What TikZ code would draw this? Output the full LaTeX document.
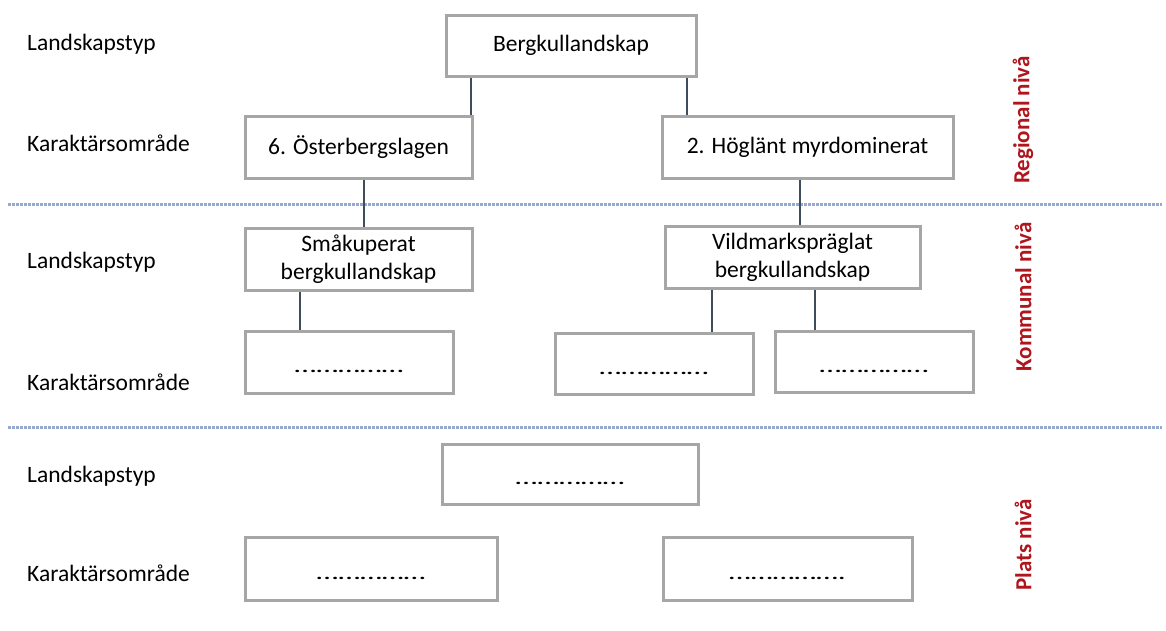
\documentclass[tikz,border=0pt]{standalone}
\usepackage{fontspec}
\usepackage{graphicx}
\setmainfont{Carlito}
\definecolor{boxgray}{RGB}{166,166,166}
\definecolor{conn}{RGB}{62,77,92}
\definecolor{sep}{RGB}{150,170,205}
\definecolor{lvl}{RGB}{176,20,28}
\newcommand{\mydots}{{\fontsize{20}{24}\selectfont\scalebox{1.58}[1]{……………}}}
\begin{document}
\begin{tikzpicture}[x=1pt,y=-1pt,
  box/.style={draw=boxgray,line width=3pt,fill=white,align=center,inner sep=0pt,
    font=\fontsize{23.5}{28}\selectfont},
  dotbox/.style={box,text height=24pt,text depth=3pt},
  conline/.style={draw=conn,line width=1.4pt},
  sepline/.style={draw=sep,line width=3pt,dash pattern=on 2.7pt off 1.3pt},
  rowlabel/.style={anchor=west,inner sep=0pt,font=\fontsize{23.5}{28}\selectfont},
  level/.style={rotate=90,text=lvl,inner sep=0pt,font=\fontsize{23}{26}\selectfont\bfseries}]
\useasboundingbox (0,0) rectangle (1166,630);

% separators
\coordinate (s1a) at (8,204); \coordinate (s1b) at (1162,204);
\coordinate (s2a) at (8,427); \coordinate (s2b) at (1162,427);
\draw[sepline] (s1a) -- (s1b);
\draw[sepline] (s2a) -- (s2b);

% row labels
\node[rowlabel] (l1) at (27,44) {Landskapstyp};
\node[rowlabel] (l2) at (27,143) {Karaktärsområde};
\node[rowlabel] (l3) at (27,262) {Landskapstyp};
\node[rowlabel] (l4) at (27,382) {Karaktärsområde};
\node[rowlabel] (l5) at (27,476) {Landskapstyp};
\node[rowlabel] (l6) at (27,573) {Karaktärsområde};

% level labels
\node[level] (v1) at (1023,120) {Regional nivå};
\node[level] (v2) at (1023,297) {Kommunal nivå};
\node[level] (v3) at (1023,545) {Plats nivå};

% boxes
\node[box,minimum width=250pt,minimum height=61pt] (top) at (571,45.5) {Bergkullandskap};
\node[box,minimum width=227pt,minimum height=62pt] (r1a) at (358.5,147) {6. Österbergslagen};
\node[box,minimum width=291pt,minimum height=62pt] (r1b) at (807.5,147) {2. Höglänt myrdominerat};
\node[box,minimum width=227pt,minimum height=62pt] (r2a) at (358.5,259) {Småkuperat\\bergkullandskap};
\node[box,minimum width=255pt,minimum height=62pt] (r2b) at (792.5,257) {Vildmarkspräglat\\bergkullandskap};
\node[dotbox,minimum width=208pt,minimum height=62pt] (r3a) at (349,362) {\mydots};
\node[dotbox,minimum width=198pt,minimum height=61pt] (r3b) at (654,363.5) {\mydots};
\node[dotbox,minimum width=198pt,minimum height=61pt] (r3c) at (874,361.5) {\mydots};
\node[dotbox,minimum width=256pt,minimum height=60pt] (r4) at (570,474) {\mydots};
\node[dotbox,minimum width=252pt,minimum height=63pt] (r5a) at (371,568.5) {\mydots};
\node[dotbox,minimum width=249pt,minimum height=63pt] (r5b) at (787.5,568.5) {{\fontsize{20}{24}\selectfont\scalebox{1.58}[1]{…………….}}};

% connectors
\draw[conline] (top.south -| 471,0) -- (r1a.north -| 471,0);
\draw[conline] (top.south -| 687,0) -- (r1b.north -| 687,0);
\draw[conline] (r1a.south -| 364,0) -- (r2a.north -| 364,0);
\draw[conline] (r1b.south -| 800,0) -- (r2b.north -| 800,0);
\draw[conline] (r2a.south -| 300,0) -- (r3a.north -| 300,0);
\draw[conline] (r2b.south -| 712,0) -- (r3b.north -| 712,0);
\draw[conline] (r2b.south -| 815,0) -- (r3c.north -| 815,0);
\end{tikzpicture}
\end{document}
